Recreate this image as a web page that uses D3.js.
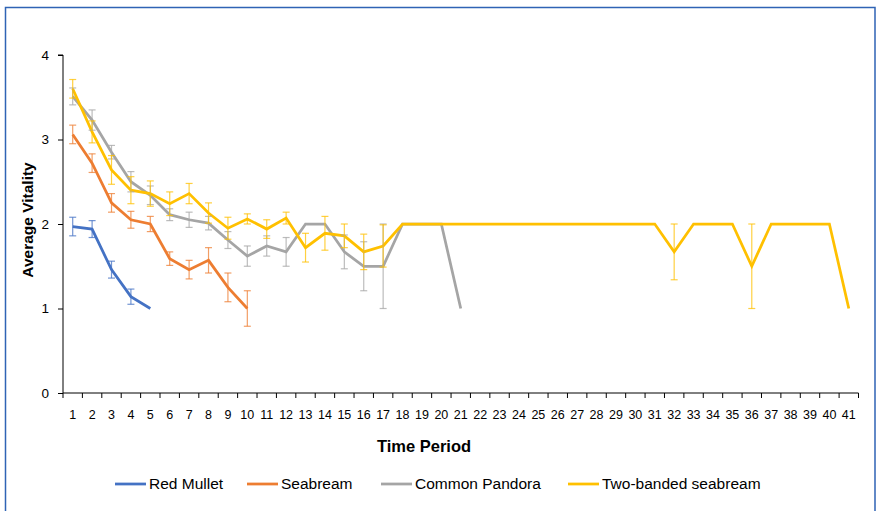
<!DOCTYPE html>
<html>
<head>
<meta charset="utf-8">
<script src="https://cdn.jsdelivr.net/npm/d3@7"></script>
<style>
  body { margin: 0; background: #fff; }
  svg { display: block; font-family: "Liberation Sans Narrow", "Liberation Sans", Arial, sans-serif; }
</style>
</head>
<body>
<svg class="chart" width="878" height="511"></svg>
<script>
// time periods on the x axis
var periods = d3.range(1, 42);
var yTicks = [0, 1, 2, 3, 4];

// averages per period, with +/- error
var redMullet = [1.97, 1.94, 1.46, 1.14, 1.0];
var redMulletErr = [0.11, 0.1, 0.1, 0.09, 0];

var seabream = [3.06, 2.72, 2.25, 2.05, 2.0, 1.59, 1.46, 1.57, 1.25, 1.0];
var seabreamErr = [0.11, 0.11, 0.11, 0.1, 0.09, 0.08, 0.11, 0.15, 0.17, 0.21];

var pandora = [3.51, 3.23, 2.85, 2.5, 2.34, 2.11, 2.05, 2.01, 1.81, 1.62, 1.74, 1.67, 2.0, 2.0, 1.67, 1.5, 1.5, 2.0, 2.0, 2.0, 1.0];
var pandoraErr = [0.1, 0.12, 0.08, 0.12, 0.11, 0.07, 0.09, 0.08, 0.1, 0.12, 0.12, 0.17, 0, 0, 0.2, 0.29, 0.5, 0, 0, 0, 0];

var twoBanded = [3.6, 3.09, 2.64, 2.4, 2.36, 2.24, 2.36, 2.13, 1.95, 2.06, 1.94, 2.07, 1.72, 1.89, 1.86, 1.67, 1.74,
  2, 2, 2, 2, 2, 2, 2, 2, 2, 2, 2, 2, 2, 2, 1.67, 2, 2, 2, 1.5, 2, 2, 2, 2, 1.0];
var twoBandedErr = [0.11, 0.13, 0.17, 0.16, 0.15, 0.14, 0.12, 0.12, 0.13, 0.06, 0.11, 0.07, 0.17, 0.2, 0.14, 0.21, 0.25,
  0, 0, 0, 0, 0, 0, 0, 0, 0, 0, 0, 0, 0, 0, 0.33, 0, 0, 0, 0.5, 0, 0, 0, 0, 0];

var seriesNames = ["Red Mullet", "Seabream", "Common Pandora", "Two-banded seabream"];
var colors = ["#4472C4", "#ED7D31", "#A5A5A5", "#FFC000"];

var series = [
  {name: seriesNames[0], values: redMullet, err: redMulletErr, color: colors[0]},
  {name: seriesNames[1], values: seabream, err: seabreamErr, color: colors[1]},
  {name: seriesNames[2], values: pandora, err: pandoraErr, color: colors[2]},
  {name: seriesNames[3], values: twoBanded, err: twoBandedErr, color: colors[3]}
];

var margin = {top: 55, left: 63},
    width = 795.5,
    height = 338;

var svg = d3.select(".chart");

// chart frame
svg.append("path")
    .attr("d", "M5.5,520 V7.5 H875 V520")
    .attr("fill", "none")
    .attr("stroke", "#2F63B5")
    .attr("stroke-width", 1.5);

var g = svg.append("g")
    .attr("transform", "translate(" + margin.left + "," + margin.top + ")");

var x = d3.scaleBand()
    .domain(periods)
    .range([0, width]);

var y = d3.scaleLinear()
    .domain([0, 4])
    .range([height, 0]);

// x axis: ticks on band edges, labels centered
var xAxis = g.append("g")
    .attr("transform", "translate(0," + height + ")");

xAxis.append("line")
    .attr("x1", 0).attr("x2", width)
    .attr("stroke", "#000").attr("stroke-width", 1);

xAxis.selectAll(".xtick").data(periods.concat([periods.length + 1]))
  .enter().append("line")
    .attr("class", "xtick")
    .attr("x1", function(d, i) { return i == periods.length ? width : x(d); })
    .attr("x2", function(d, i) { return i == periods.length ? width : x(d); })
    .attr("y1", 0).attr("y2", 5)
    .attr("stroke", "#000");

xAxis.selectAll(".xlabel").data(periods)
  .enter().append("text")
    .attr("class", "xlabel")
    .attr("x", function(d) { return x(d) + x.bandwidth() / 2; })
    .attr("y", 26)
    .attr("text-anchor", "middle")
    .style("font-size", "12.5px")
    .text(function(d) { return d; });

// y axis
var yAxis = g.append("g")
    .call(d3.axisLeft(y).tickValues(yTicks).tickSize(5).tickPadding(9).tickFormat(d3.format("d")));
yAxis.select(".domain").attr("stroke", "#000").attr("d", "M-5," + y(4) + "H0V" + height);
yAxis.selectAll("text").style("font-size", "13.5px").style("font-family", "\"Liberation Sans\", Arial, sans-serif");

// axis titles
svg.append("text")
    .attr("transform", "translate(33," + (margin.top + height / 2 - 4) + ") rotate(-90)")
    .attr("text-anchor", "middle")
    .style("font-size", "15.5px")
    .style("font-weight", "bold")
    .style("font-family", "\"Liberation Sans\", Arial, sans-serif")
    .text("Average Vitality");

svg.append("text")
    .attr("x", 424)
    .attr("y", 452)
    .attr("text-anchor", "middle")
    .style("font-size", "16.5px")
    .style("font-weight", "bold")
    .style("font-family", "\"Liberation Sans\", Arial, sans-serif")
    .text("Time Period");

var cx = function(i) { return x(periods[i]) + x.bandwidth() / 2; };

var line = d3.line()
    .x(function(d, i) { return cx(i); })
    .y(function(d) { return y(d); });

// lines
series.forEach(function(s) {
  g.append("path")
      .datum(s.values)
      .attr("fill", "none")
      .attr("stroke", s.color)
      .attr("stroke-width", 2.75)
      .attr("stroke-linejoin", "miter")
      .attr("d", line);
});

// error bars on top
series.forEach(function(s) {
  var bars = g.selectAll(".err-" + s.name.replace(/\W/g, ""))
      .data(s.values.map(function(v, i) { return {i: i, v: v, e: s.err[i]}; }).filter(function(d) { return d.e > 0; }))
    .enter().append("g")
      .attr("stroke", s.color)
      .attr("stroke-opacity", 0.75)
      .attr("stroke-width", 1.2);

  bars.append("line")
      .attr("x1", function(d) { return cx(d.i); })
      .attr("x2", function(d) { return cx(d.i); })
      .attr("y1", function(d) { return y(d.v + d.e); })
      .attr("y2", function(d) { return y(d.v - d.e); });

  [1, -1].forEach(function(sign) {
    bars.append("line")
        .attr("x1", function(d) { return cx(d.i) - 3.5; })
        .attr("x2", function(d) { return cx(d.i) + 3.5; })
        .attr("y1", function(d) { return y(d.v + sign * d.e); })
        .attr("y2", function(d) { return y(d.v + sign * d.e); });
  });
});

// legend
var legendX = [115, 247, 381, 568];
var legend = svg.selectAll(".legend-item").data(series)
  .enter().append("g")
    .attr("class", "legend-item")
    .attr("transform", function(d, i) { return "translate(" + legendX[i] + ",484)"; });

legend.append("line")
    .attr("x1", 0).attr("x2", 31)
    .attr("stroke", function(d) { return d.color; })
    .attr("stroke-width", 2.75);

legend.append("text")
    .attr("x", 34)
    .attr("y", 5)
    .style("font-size", "15.5px")
    .text(function(d) { return d.name; });
</script>
</body>
</html>
